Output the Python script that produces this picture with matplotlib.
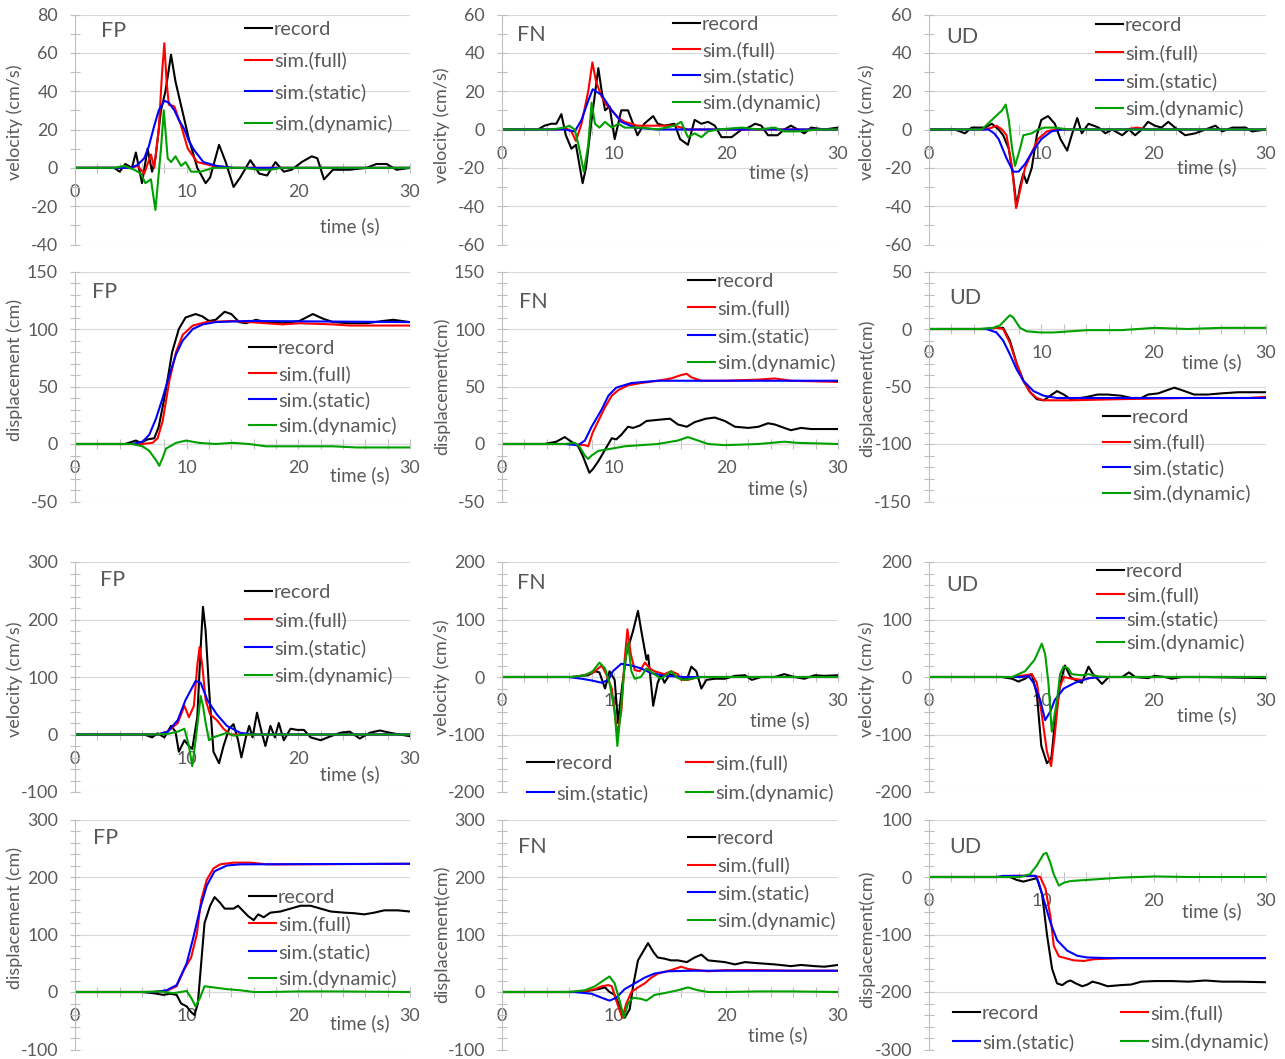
import numpy as np
import matplotlib.pyplot as plt
from matplotlib.ticker import MultipleLocator

plt.rcParams['font.family'] = ['Lato', 'DejaVu Sans']
plt.rcParams['axes.unicode_minus'] = False

W, H = 1285, 1059

# each series: [time (s), value]
# ---- event 1, velocity (cm/s) ----
v1_fp_rec = [[0, 0], [3.5, 0], [4.0, -2], [4.5, 2], [5.1, 0], [5.45, 8], [6.0, -8], [6.5, 10], [6.9, -2], [7.2, 5],
             [7.7, 30], [8.1, 40], [8.6, 59], [9.0, 45], [9.6, 30], [10.2, 15], [10.95, 0], [11.7, -8], [12.1, -5],
             [12.9, 12], [13.5, 3], [14.2, -10], [14.8, -5], [15.7, 4], [16.5, -3], [17.2, -4], [17.95, 3], [18.7, -2],
             [19.4, -1], [20.3, 3], [21.2, 6], [21.7, 5], [22.3, -6], [23.1, -1], [24.6, -1], [26.1, 0], [27.0, 2],
             [27.9, 2], [28.8, -1], [30, 0]]
v1_fp_full = [[0, 0], [5.0, 0], [5.6, 1], [6.2, -3], [6.8, 7], [7.1, 0], [7.5, 20], [7.8, 50], [8.0, 65], [8.2, 45],
              [8.4, 33], [8.9, 32], [9.5, 22], [10.1, 10], [10.95, 3], [12.4, 1], [14.2, 0], [30, 0]]
v1_fp_stat = [[0, 0], [5.0, 0], [5.6, 1.5], [6.2, 5], [6.6, 11], [7.1, 22], [7.5, 30], [8.0, 35], [8.4, 34], [8.9, 30],
              [9.3, 25], [9.8, 20], [10.2, 14], [10.7, 9], [11.5, 3], [12.7, 1], [14.2, 0], [30, 0]]
v1_fp_dyn = [[0, 0], [3.5, 0], [4.4, 1], [5.3, -1], [5.9, -3], [6.3, -8], [6.8, -6], [7.2, -22], [7.7, 10], [7.95, 30],
             [8.3, 5], [8.6, 3], [9.0, 6], [9.5, 1], [9.9, 3], [10.4, -2], [11.25, -2], [12.4, 0], [15.0, 0],
             [16.5, -1], [17.5, -1], [18.5, 0], [30, 0]]

v1_fn_rec = [[0, 0], [3.2, 0], [3.8, 2], [4.4, 3], [4.85, 3], [5.3, 8], [5.7, -3], [6.2, -10], [6.6, -8], [7.2, -28],
             [7.5, -20], [8.0, 5], [8.6, 32], [8.9, 20], [9.2, 10], [9.6, 12], [10.06, -5], [10.65, 10], [11.25, 10],
             [11.7, 3], [12.1, -3], [12.7, 3], [13.5, 7], [13.9, 3], [14.5, 2], [15.4, 3], [15.9, -5], [16.6, -8],
             [17.2, 5], [17.8, 3], [18.4, 4], [19.0, 2], [19.6, -4], [20.5, -4], [21.4, 0], [22.0, 1], [22.6, 3],
             [23.15, 2], [23.75, -3], [24.6, -3], [25.2, 0], [25.8, 2], [26.4, 0], [27.0, -2], [27.6, 1], [28.8, 0],
             [30, 1]]
v1_fn_full = [[0, 0], [5.0, 0], [5.6, 1], [6.2, -1], [6.6, -6], [7.1, 3], [7.7, 20], [8.07, 35], [8.4, 25], [8.9, 17],
              [9.3, 13], [9.8, 10], [10.4, 6], [10.95, 4], [12.1, 2], [13.9, 2], [15.4, 2], [16.6, 0], [30, 0]]
v1_fn_stat = [[0, 0], [5.6, 0], [6.5, -1], [7.1, 5], [7.7, 15], [8.1, 21], [8.9, 18], [9.8, 10], [10.65, 4],
              [11.85, 1], [13.9, 0], [30, 0]]
v1_fn_dyn = [[0, 0], [4.4, 0], [5.6, 1], [6.0, 2], [6.5, 0], [6.9, -10], [7.3, -22], [7.7, -8], [8.0, 14], [8.3, 3],
             [8.7, 1], [9.2, 4], [9.8, 1], [10.4, 3], [10.95, 1], [12.4, 1], [13.9, 0], [15.4, 2], [16.0, 4],
             [16.6, -4], [17.2, -2], [17.8, -4], [18.4, -1], [19.3, 0], [21.4, 1], [22.9, 0], [24.35, 1], [25.2, -1],
             [26.4, -1], [28.2, 0], [30, 0]]

v1_ud_rec = [[0, 0], [2.3, 0], [3.2, -2], [3.8, 1], [5.0, 1], [5.6, 3], [6.2, 0], [6.6, -3], [7.1, -10], [7.5, -25],
             [7.8, -40], [8.1, -30], [8.4, -23], [8.7, -28], [9.15, -20], [9.6, -3], [10.0, 5], [10.6, 7], [11.2, 3],
             [11.7, -5], [12.3, -11], [12.7, -3], [13.2, 6], [13.6, -2], [14.2, 3], [15.1, 1], [15.7, -2], [16.3, 0],
             [17.2, -3], [17.8, 0], [18.35, -3], [18.95, 0], [19.5, 4], [20.1, 2], [20.7, 1], [21.3, 4], [21.9, 1],
             [22.8, -3], [23.7, -2], [24.6, 0], [25.5, 2], [26.1, -1], [27.0, 1], [28.2, 1], [28.75, -1], [30, 0]]
v1_ud_full = [[0, 0], [5.0, 0], [5.6, 1], [6.0, 2], [6.5, 0], [6.9, -3], [7.4, -20], [7.75, -41], [8.1, -32],
              [8.55, -20], [9.15, -12], [9.7, -5], [10.5, -1], [11.2, 0], [17.5, 0], [18.5, 1], [19.5, 0], [30, 0]]
v1_ud_stat = [[0, 0], [5.3, 0], [5.8, -2], [6.2, -5], [6.9, -15], [7.5, -22], [7.96, -22], [8.55, -18], [9.15, -12],
              [10.0, -5], [10.9, -1], [11.8, 0], [30, 0]]
v1_ud_dyn = [[0, 0], [4.7, 0], [5.6, 5], [6.5, 10], [6.83, 13], [7.1, 5], [7.4, -10], [7.66, -19], [8.1, -10],
             [8.4, -3], [9.15, -2], [9.7, 0], [10.3, 1], [11.2, 1], [12.4, 0], [30, 0]]

# ---- event 1, displacement (cm) ----
d1_fp_rec = [[0, 0], [4.5, 0], [5.45, 3], [5.9, 1], [6.5, 4], [7.1, 5], [7.5, 15], [8.1, 45], [8.7, 80], [9.3, 100],
             [9.9, 110], [10.8, 113], [11.4, 111], [12.0, 107], [12.6, 108], [13.4, 115], [14.0, 113], [14.7, 106],
             [15.3, 105], [16.2, 108], [17.1, 106], [18.6, 105], [20.1, 107], [20.7, 110], [21.3, 113], [22.2, 109],
             [23.1, 106], [24.6, 105], [26.1, 105], [27.6, 107], [28.5, 108], [30, 106]]
d1_fp_full = [[0, 0], [6.0, 0], [6.95, 1], [7.4, 5], [7.85, 20], [8.45, 55], [9.05, 80], [9.65, 95], [10.55, 103],
              [11.75, 106], [14.1, 107], [15.6, 106], [17.1, 105], [18.6, 104], [20.1, 105], [23.1, 104], [24.6, 103],
              [30, 103]]
d1_fp_stat = [[0, 0], [5.1, 0], [6.05, 2], [6.65, 8], [7.25, 22], [7.85, 40], [8.45, 60], [9.05, 78], [9.65, 90],
              [10.55, 100], [11.45, 104], [12.6, 106], [15.6, 107], [30, 106]]
d1_fp_dyn = [[0, 0], [5.1, 0], [6.05, -2], [6.65, -6], [7.25, -14], [7.55, -19], [7.85, -12], [8.15, -4], [9.05, 1],
             [9.95, 3], [11.1, 1], [12.6, 0], [14.1, 1], [15.6, 0], [17.1, -2], [20.1, -2], [23.1, -2], [25.2, -3],
             [30, -3]]

d1_fn_rec = [[0, 0], [3.8, 0], [4.85, 2], [5.6, 6], [6.2, 2], [6.8, -2], [7.2, -10], [7.8, -25], [8.1, -22],
             [8.6, -15], [9.2, -5], [9.8, 5], [10.2, 4], [10.65, 8], [11.25, 15], [11.7, 14], [12.3, 16], [12.9, 20],
             [13.9, 21], [15.0, 22], [15.7, 17], [16.5, 15], [17.2, 19], [18.2, 22], [19.0, 23], [19.9, 20],
             [20.8, 15], [22.0, 14], [22.9, 15], [23.75, 18], [24.35, 17], [25.2, 14], [25.8, 12], [26.7, 14],
             [27.6, 13], [30, 13]]
d1_fn_full = [[0, 0], [6.2, 0], [7.4, -1], [7.7, -2], [8.1, 10], [8.6, 20], [9.2, 32], [9.8, 42], [10.4, 47],
              [11.25, 51], [12.4, 53], [13.9, 55], [15.1, 57], [16.0, 60], [16.5, 61], [16.9, 58], [17.8, 55],
              [19.9, 55], [22.9, 56], [24.35, 57], [25.8, 55], [30, 54]]
d1_fn_stat = [[0, 0], [5.6, 0], [6.8, -1], [7.4, 3], [8.0, 15], [8.9, 30], [9.5, 42], [10.2, 49], [11.55, 53],
              [13.9, 55], [30, 55]]
d1_fn_dyn = [[0, 0], [5.6, 0], [6.5, 1], [6.9, -2], [7.4, -10], [7.7, -13], [8.0, -10], [8.6, -6], [9.8, -4],
             [10.95, -2], [12.4, -1], [13.9, 0], [15.7, 3], [16.6, 6], [17.2, 4], [18.4, 0], [19.9, -1], [22.9, 0],
             [25.2, 2], [26.4, 1], [30, 0]]

d1_ud_rec = [[0, 0], [5.1, 0], [6.0, 1], [6.6, 1], [7.2, -10], [7.8, -30], [8.4, -45], [9.0, -55], [9.6, -61],
             [10.2, -62], [10.8, -58], [11.4, -54], [12.0, -57], [12.6, -61], [13.5, -60], [14.1, -59], [15.0, -57],
             [15.9, -57], [17.1, -58], [18.0, -60], [18.9, -60], [19.5, -57], [20.4, -56], [21.25, -53], [21.85, -51],
             [22.75, -54], [23.6, -57], [24.8, -57], [26.0, -56], [27.5, -55], [30, -55]]
d1_ud_full = [[0, 0], [5.1, 0], [6.0, 1], [6.6, 0], [7.2, -12], [7.8, -30], [8.4, -45], [9.0, -55], [9.6, -60],
              [10.2, -62], [12.6, -62], [17.1, -61], [23.0, -60], [28.4, -60], [30, -59]]
d1_ud_stat = [[0, 0], [5.1, 0], [6.0, -3], [6.6, -10], [7.2, -22], [7.8, -35], [8.4, -45], [9.3, -54], [10.2, -58],
              [11.4, -60], [14.1, -60], [30, -60]]
d1_ud_dyn = [[0, 0], [4.5, 0], [5.7, 1], [6.3, 3], [6.9, 9], [7.2, 12], [7.5, 10], [8.1, 1], [8.7, -2], [9.9, -3],
             [11.1, -3], [12.6, -2], [14.1, -1], [17.1, -1], [18.6, 0], [20.1, 1], [23.0, 0], [26.0, 1], [30, 1]]

# ---- event 2, velocity (cm/s) ----
v2_fp_rec = [[0, 0], [6.2, 0], [6.9, -5], [7.4, 2], [8.0, -5], [8.6, 15], [9.0, 5], [9.3, -30], [9.8, -10],
             [10.2, -20], [10.5, -25], [10.95, 30], [11.25, 150], [11.46, 222], [11.7, 180], [12.0, 80], [12.4, -30],
             [12.9, -50], [13.3, -20], [13.8, 10], [14.2, 18], [14.6, -10], [14.9, -40], [15.3, -5], [15.6, 15],
             [15.9, -5], [16.3, 38], [16.7, 5], [17.05, -20], [17.5, 15], [17.9, -5], [18.25, 20], [18.7, -10],
             [19.3, 10], [19.9, 8], [20.5, 8], [21.1, -5], [22.0, -10], [22.9, -3], [23.75, 3], [24.6, 5], [25.5, -7],
             [26.4, 3], [27.3, 7], [28.2, 3], [29.1, 0], [30, -3]]
v2_fp_full = [[0, 0], [7.4, 0], [8.3, 5], [9.2, 20], [9.8, 50], [10.2, 30], [10.65, 50], [10.95, 120], [11.16, 152],
              [11.4, 120], [11.7, 60], [12.1, 35], [12.7, 25], [13.3, 10], [13.9, 0], [30, 0]]
v2_fp_stat = [[0, 0], [7.4, 0], [8.3, 5], [9.2, 25], [9.9, 60], [10.8, 93], [11.25, 90], [11.85, 60], [12.7, 35],
              [13.6, 15], [14.8, 3], [16.0, 0], [30, 0]]
v2_fp_dyn = [[0, 0], [6.8, 0], [8.3, 1], [9.2, 5], [9.8, 10], [10.2, -20], [10.5, -55], [10.8, -10], [11.1, 40],
             [11.25, 67], [11.46, 50], [11.7, 20], [12.0, -10], [12.4, -5], [13.6, 3], [14.2, -2], [15.4, 0], [30, 0]]

v2_fn_rec = [[0, 0], [6.2, 0], [7.1, 2], [7.7, 3], [8.3, 10], [8.7, 8], [9.2, -20], [9.6, 10], [10.06, -5],
             [10.36, -80], [10.7, -20], [11.1, 40], [11.7, 80], [12.14, 115], [12.44, 80], [12.9, 30], [13.05, 38],
             [13.3, -10], [13.5, -50], [13.9, -10], [14.2, 5], [14.5, -10], [15.0, 5], [15.7, 0], [16.5, -5],
             [16.9, 18], [17.35, 10], [17.8, -20], [18.25, -5], [19.0, -3], [19.9, -3], [20.8, 2], [21.7, 3],
             [22.3, -5], [23.15, 0], [24.35, 0], [25.2, 5], [26.1, 0], [27.0, -3], [27.9, 3], [28.8, 2], [30, 3]]
v2_fn_full = [[0, 0], [6.5, 0], [7.7, 5], [8.3, 10], [8.9, 20], [9.3, 5], [9.8, -20], [10.3, -100], [10.65, -60],
              [10.95, 30], [11.2, 83], [11.5, 40], [11.85, 12], [12.3, 10], [12.75, 25], [13.2, 15], [13.6, 10],
              [14.5, 5], [15.1, 10], [15.7, 5], [16.0, -5], [16.6, -5], [17.5, 0], [30, 0]]
v2_fn_stat = [[0, 0], [5.9, 0], [7.1, -3], [8.0, -6], [8.9, -10], [9.5, -5], [9.9, 10], [10.65, 23], [11.55, 20],
              [12.4, 15], [13.3, 7], [14.5, 2], [16.3, 0], [30, 0]]
v2_fn_dyn = [[0, 0], [6.2, 0], [7.4, 3], [8.1, 10], [8.7, 25], [9.2, 15], [9.6, -10], [10.06, -60], [10.3, -120],
             [10.65, -50], [10.95, 20], [11.25, 60], [11.55, 10], [11.85, -3], [12.4, 0], [12.9, 15], [13.6, 5],
             [14.2, -3], [15.1, 10], [15.7, -2], [16.3, -5], [16.9, -3], [17.8, 0], [30, 0]]

v2_ud_rec = [[0, 0], [6.5, 0], [7.4, -3], [7.96, -8], [8.55, -3], [9.15, 5], [9.6, -30], [10.0, -120], [10.5, -150],
             [10.9, -140], [11.2, -80], [11.7, -10], [12.1, 20], [12.6, 0], [13.0, -5], [13.6, -10], [14.2, 18],
             [14.6, 5], [15.4, -12], [16.0, 0], [17.2, 0], [17.8, 8], [18.35, 0], [19.5, -2], [20.1, 2], [21.0, 0],
             [21.6, -3], [22.5, 0], [24.6, 0], [30, -2]]
v2_ud_full = [[0, 0], [7.4, 0], [8.55, 3], [9.15, 5], [9.6, -10], [10.0, -60], [10.5, -130], [10.87, -155],
              [11.2, -100], [11.6, -20], [12.0, 0], [12.7, -3], [13.6, -5], [14.8, 0], [30, 0]]
v2_ud_stat = [[0, 0], [8.3, 0], [8.85, 2], [9.3, -10], [9.9, -40], [10.34, -75], [10.8, -60], [11.2, -40],
              [12.0, -20], [13.0, -10], [14.2, -2], [15.4, 0], [30, 0]]
v2_ud_dyn = [[0, 0], [7.4, 0], [8.55, 10], [9.4, 30], [10.04, 58], [10.34, 40], [10.63, -10], [10.93, -95],
             [11.4, -40], [11.67, 5], [11.97, 18], [12.4, 15], [12.7, 5], [13.6, 3], [14.2, 5], [15.1, 1], [16.0, 0],
             [30, 0]]

# ---- event 2, displacement (cm) ----
d2_fp_rec = [[0, 0], [6.0, 0], [7.0, -2], [7.9, -5], [8.5, -3], [9.1, -5], [9.5, -20], [10.0, -25], [10.4, -35],
             [10.7, -40], [11.0, -20], [11.3, 50], [11.6, 120], [12.1, 150], [12.5, 165], [13.0, 155], [13.4, 145],
             [14.2, 145], [14.6, 150], [15.1, 140], [15.5, 132], [16.0, 125], [16.4, 135], [16.9, 130], [17.5, 138],
             [18.4, 140], [19.3, 145], [20.2, 150], [21.1, 150], [22.0, 145], [22.9, 140], [24.1, 138], [25.0, 137],
             [25.9, 135], [26.8, 138], [27.7, 142], [28.9, 142], [30, 140]]
d2_fp_full = [[0, 0], [7.0, 0], [8.2, 2], [9.1, 10], [9.8, 40], [10.4, 60], [10.9, 100], [11.3, 160], [11.8, 195],
              [12.4, 215], [13.0, 222], [14.2, 225], [15.7, 225], [17.2, 222], [18.7, 222], [30, 223]]
d2_fp_stat = [[0, 0], [7.0, 0], [8.2, 3], [9.1, 12], [10.0, 50], [10.6, 95], [11.2, 145], [11.8, 185], [12.5, 210],
              [13.6, 220], [14.8, 222], [30, 223]]
d2_fp_dyn = [[0, 0], [6.0, 0], [7.6, 1], [8.8, -2], [9.5, 0], [10.0, 2], [10.4, -10], [10.8, -25], [11.2, -10],
             [11.6, 10], [12.4, 8], [13.6, 5], [14.8, 3], [16.0, 0], [17.2, 0], [20.2, 1], [23.2, 1], [30, 0]]

d2_fn_rec = [[0, 0], [7.1, 0], [8.0, 3], [8.6, 5], [9.2, 8], [9.6, 0], [10.06, -5], [10.65, -30], [10.95, -45],
             [11.4, -30], [11.7, 10], [12.14, 55], [12.74, 75], [13.04, 85], [13.5, 70], [13.9, 60], [14.5, 58],
             [15.1, 55], [15.7, 55], [16.5, 52], [17.2, 60], [17.8, 65], [18.4, 55], [19.9, 52], [20.8, 48],
             [21.7, 52], [22.9, 50], [24.35, 48], [25.8, 45], [26.7, 47], [27.9, 45], [28.8, 44], [30, 47]]
d2_fn_full = [[0, 0], [7.1, 0], [8.3, 5], [8.9, 10], [9.5, 12], [9.8, 10], [10.2, -15], [10.74, -45], [11.1, -20],
              [11.55, 0], [12.14, 8], [12.74, 15], [13.33, 25], [13.93, 32], [15.1, 38], [16.0, 44], [16.6, 40],
              [17.5, 38], [18.4, 36], [19.9, 38], [21.4, 38], [22.9, 38], [25.8, 37], [30, 37]]
d2_fn_stat = [[0, 0], [6.5, 0], [8.0, -3], [8.9, -10], [9.6, -15], [10.2, -10], [10.95, 5], [11.85, 15], [12.74, 25],
              [13.6, 32], [14.8, 36], [16.9, 37], [30, 37]]
d2_fn_dyn = [[0, 0], [5.9, 0], [7.4, 3], [8.3, 10], [9.2, 22], [9.6, 27], [10.06, 15], [10.5, -15], [10.89, -45],
             [11.25, -20], [11.7, -10], [12.44, -12], [12.89, -15], [13.63, -5], [14.5, -2], [15.7, 3], [16.6, 8],
             [17.5, 3], [18.4, 0], [19.9, 0], [22.9, 1], [25.8, 1], [30, 0]]

d2_ud_rec = [[0, 0], [7.2, 0], [7.8, -5], [8.4, -8], [9.0, -5], [9.6, -2], [10.07, -30], [10.5, -100], [10.96, -160],
             [11.4, -185], [11.86, -188], [12.3, -182], [12.6, -180], [13.06, -185], [13.65, -190], [14.1, -187],
             [14.55, -182], [15.15, -185], [15.9, -190], [17.1, -188], [18.0, -187], [18.9, -182], [20.1, -181],
             [21.6, -181], [23.1, -182], [24.6, -180], [26.1, -182], [27.55, -182], [30, -183]]
d2_ud_full = [[0, 0], [7.2, 0], [7.5, 2], [9.3, 2], [9.9, 0], [10.37, -20], [10.82, -70], [11.11, -120],
              [11.56, -138], [12.3, -142], [12.9, -145], [13.8, -146], [14.7, -143], [15.9, -142], [17.1, -141],
              [30, -141]]
d2_ud_stat = [[0, 0], [6.0, 0], [6.6, 2], [9.5, 2], [9.77, -10], [10.22, -40], [10.82, -80], [11.41, -110],
              [12.3, -128], [13.2, -137], [14.1, -140], [15.9, -141], [30, -141]]
d2_ud_dyn = [[0, 0], [8.1, 0], [9.0, 5], [9.6, 20], [10.2, 40], [10.46, 42], [10.8, 25], [11.1, 5], [11.56, -15],
             [12.0, -10], [12.6, -7], [14.1, -5], [15.6, -3], [17.1, -1], [18.6, 0], [20.1, 1], [23.1, 0], [30, 0]]

LABELS = ['record', 'sim.(full)', 'sim.(static)', 'sim.(dynamic)']
COLORS = ['#000000', '#ff0000', '#0000ff', '#00a000']
TXT = '#595959'
AXC = '#bfbfbf'
GRID = '#d9d9d9'
FS_LEG = 14.4

# pixel layout of the plot areas (t=0..30 horizontally, ymax..ymin vertically)
col_x = [(75, 410), (502, 838), (929, 1266)]
row_y = [(14.5, 244.5), (271.5, 501.5), (562, 792), (819.5, 1049.5)]
ylabel_x = [15, 442, 867]

panels = [
    dict(pos=(0, 0), comp='FP', data=(v1_fp_rec, v1_fp_full, v1_fp_stat, v1_fp_dyn), ylim=(-40, 80), major=20,
         minor=10, ylabel='velocity (cm/s)', ly=0.53, comp_xy=(114, 31), time_xy=(350, 226), leg=(245, 77, 32, 1, 0)),
    dict(pos=(0, 1), comp='FN', data=(v1_fn_rec, v1_fn_full, v1_fn_stat, v1_fn_dyn), ylim=(-60, 60), major=20,
         minor=10, ylabel='velocity (cm/s)', ly=0.52, comp_xy=(531, 35), time_xy=(779, 172), leg=(673, 64, 26.3, 1, 0)),
    dict(pos=(0, 2), comp='UD', data=(v1_ud_rec, v1_ud_full, v1_ud_stat, v1_ud_dyn), ylim=(-60, 60), major=20,
         minor=10, ylabel='velocity (cm/s)', ly=0.53, comp_xy=(962, 37), time_xy=(1207, 167),
         leg=(1096, 67.5, 28.3, 1, 0)),
    dict(pos=(1, 0), comp='FP', data=(d1_fp_rec, d1_fp_full, d1_fp_stat, d1_fp_dyn), ylim=(-50, 150), major=50,
         minor=10, ylabel='displacement (cm)', ly=0.57, comp_xy=(105, 292), time_xy=(360, 475),
         leg=(249, 387.5, 26.3, 1, 0)),
    dict(pos=(1, 1), comp='FN', data=(d1_fn_rec, d1_fn_full, d1_fn_stat, d1_fn_dyn), ylim=(-50, 150), major=50,
         minor=10, ylabel='displacement(cm)', ly=0.50, comp_xy=(533, 302), time_xy=(778, 488),
         leg=(688, 322.5, 27.7, 1, 0)),
    dict(pos=(1, 2), comp='UD', data=(d1_ud_rec, d1_ud_full, d1_ud_stat, d1_ud_dyn), ylim=(-150, 50), major=50,
         minor=10, ylabel='displacement(cm)', ly=0.49, comp_xy=(965, 298), time_xy=(1212, 362),
         leg=(1103, 456, 26, 1, 0)),
    dict(pos=(2, 0), comp='FP', data=(v2_fp_rec, v2_fp_full, v2_fp_stat, v2_fp_dyn), ylim=(-100, 300), major=100,
         minor=20, ylabel='velocity (cm/s)', ly=0.49, comp_xy=(113, 580), time_xy=(350, 774),
         leg=(245, 634.5, 28.3, 1, 0)),
    dict(pos=(2, 1), comp='FN', data=(v2_fn_rec, v2_fn_full, v2_fn_stat, v2_fn_dyn), ylim=(-200, 200), major=100,
         minor=20, ylabel='velocity (cm/s)', ly=0.50, comp_xy=(531, 583), time_xy=(780, 720),
         leg=(527, 778, 30, 2, 38)),
    dict(pos=(2, 2), comp='UD', data=(v2_ud_rec, v2_ud_full, v2_ud_stat, v2_ud_dyn), ylim=(-200, 200), major=100,
         minor=20, ylabel='velocity (cm/s)', ly=0.49, comp_xy=(962, 585), time_xy=(1207, 715),
         leg=(1097, 607.5, 24, 1, 0)),
    dict(pos=(3, 0), comp='FP', data=(d2_fp_rec, d2_fp_full, d2_fp_stat, d2_fp_dyn), ylim=(-100, 300), major=100,
         minor=20, ylabel='displacement (cm)', ly=0.57, comp_xy=(106, 838), time_xy=(360, 1023),
         leg=(249, 938.5, 27.7, 1, 0)),
    dict(pos=(3, 1), comp='FN', data=(d2_fn_rec, d2_fn_full, d2_fn_stat, d2_fn_dyn), ylim=(-100, 300), major=100,
         minor=20, ylabel='displacement(cm)', ly=0.50, comp_xy=(532, 847), time_xy=(778, 1035),
         leg=(688, 880, 28, 1, 0)),
    dict(pos=(3, 2), comp='UD', data=(d2_ud_rec, d2_ud_full, d2_ud_stat, d2_ud_dyn), ylim=(-300, 100), major=100,
         minor=20, ylabel='displacement(cm)', ly=0.48, comp_xy=(965, 847), time_xy=(1212, 911),
         leg=(953, 1027.5, 29, 2, 47)),
]

fig = plt.figure(figsize=(W / 100, H / 100), dpi=100)

# measure legend row height so the entry spacing matches the picture
renderer = fig.canvas.get_renderer()
probe = fig.text(0, 0, 'sim.(dynamic)', fontsize=FS_LEG)
text_h = probe.get_window_extent(renderer).height
probe.remove()
fs_px = FS_LEG * 100 / 72


def fx(px):
    return px / W


def fy(py):
    return 1 - py / H


for p in panels:
    r, c = p['pos']
    x0, x1 = col_x[c]
    yt, yb = row_y[r]
    ax = fig.add_axes([fx(x0), fy(yb), fx(x1 - x0), (yb - yt) / H])
    ax.set_xlim(0, 30)
    ax.set_ylim(*p['ylim'])

    lines = []
    for s, col, lab in zip(p['data'], COLORS, LABELS):
        a = np.array(s, dtype=float)
        ln, = ax.plot(a[:, 0], a[:, 1], color=col, lw=1.5, label=lab, solid_joinstyle='round')
        lines.append(ln)

    for side in ('top', 'right'):
        ax.spines[side].set_visible(False)
    ax.spines['bottom'].set_position(('data', 0))
    ax.spines['bottom'].set_color(AXC)
    ax.spines['left'].set_color(AXC)
    ax.spines['bottom'].set_zorder(0.5)

    ax.xaxis.set_major_locator(MultipleLocator(10))
    ax.xaxis.set_minor_locator(MultipleLocator(2))
    ax.yaxis.set_major_locator(MultipleLocator(p['major']))
    ax.yaxis.set_minor_locator(MultipleLocator(p['minor']))
    ax.tick_params(axis='both', which='both', direction='inout', length=6.5, width=0.8, color=AXC,
                   labelcolor=TXT, labelsize=12.8)
    ax.tick_params(axis='y', pad=9)
    ax.tick_params(axis='x', pad=8.5)
    ax.grid(axis='y', which='major', color=GRID, lw=0.8)
    ax.set_axisbelow(True)

    # axis titles and panel annotations
    fig.text(fx(ylabel_x[c]), fy(yb - p['ly'] * (yb - yt)), p['ylabel'], color=TXT, fontsize=13,
             rotation=90, ha='center', va='center')
    fig.text(fx(p['comp_xy'][0]), fy(p['comp_xy'][1]), p['comp'], color=TXT, fontsize=15.5,
             ha='center', va='center')
    fig.text(fx(p['time_xy'][0]), fy(p['time_xy'][1]), 'time (s)', color=TXT, fontsize=13.5,
             ha='center', va='center')

    lx, ly, spacing, ncol, gap = p['leg']
    handles = lines if ncol == 1 else [lines[0], lines[2], lines[1], lines[3]]
    ax.legend(handles=handles, labels=[h.get_label() for h in handles], loc='center left',
              bbox_to_anchor=(fx(lx), fy(ly)), bbox_transform=fig.transFigure, frameon=False,
              borderpad=0, borderaxespad=0, handlelength=1.35, handletextpad=0.1,
              labelspacing=max(spacing - text_h, 0) / fs_px, ncol=ncol,
              columnspacing=gap / fs_px, fontsize=FS_LEG, labelcolor=TXT)

fig.savefig('out.png', dpi=100)
